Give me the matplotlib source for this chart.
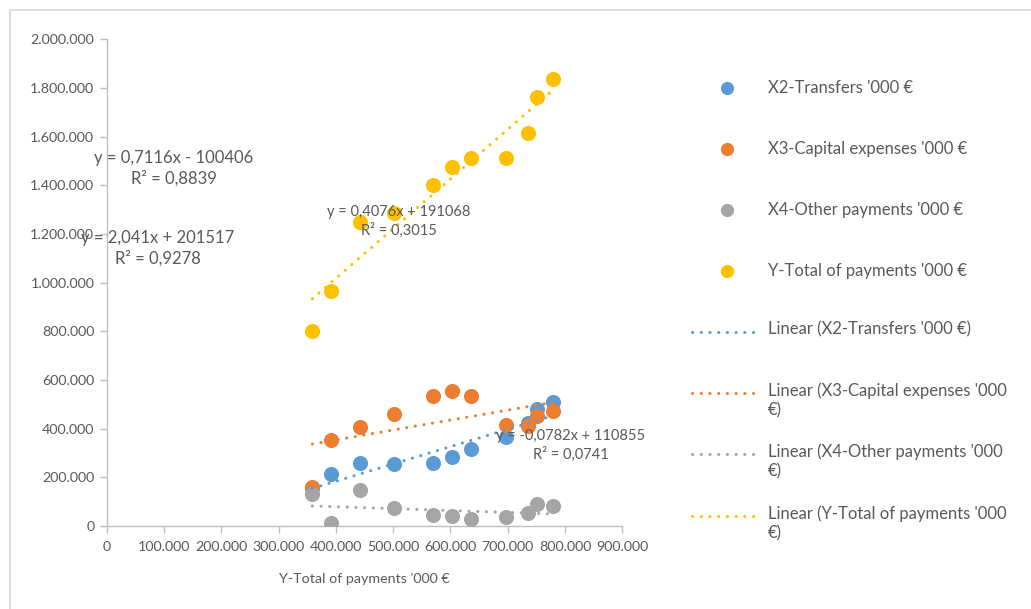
import matplotlib
matplotlib.use("Agg")
import matplotlib.pyplot as plt
from matplotlib.lines import Line2D
from matplotlib.patches import Rectangle
from matplotlib.ticker import FuncFormatter
import numpy as np

# ---- data ----
x_total = [358800, 390900, 442100, 502000, 570100, 603200, 635400, 697000, 734900, 750600, 779600]
x2_transfers = [155000, 212800, 260500, 255100, 258000, 282700, 316800, 364800, 424800, 479900, 511100]
x3_capital = [161900, 353700, 405900, 460600, 534500, 556300, 535800, 415400, 411300, 452400, 474100]
x4_other = [131900, 14000, 148300, 75600, 45600, 41500, 27900, 38600, 52600, 90800, 82600]
y_total = [802800, 964700, 1250700, 1287700, 1401500, 1476700, 1513700, 1512400, 1615200, 1764300, 1838200]

series_names = ["X2-Transfers '000 €", "X3-Capital expenses '000 €",
                "X4-Other payments '000 €", "Y-Total of payments '000 €"]
trend_names = ["Linear (X2-Transfers '000 €)", "Linear (X3-Capital expenses '000\n€)",
               "Linear (X4-Other payments '000\n€)", "Linear (Y-Total of payments '000\n€)"]
# trendline coefficients as shown in the chart labels
slopes = [0.7116, 0.4076, -0.0782, 2.041]
intercepts = [-100406, 191068, 110855, 201517]
eq_texts = ["y = 0,7116x - 100406\nR² = 0,8839",
            "y = 0,4076x + 191068\nR² = 0,3015",
            "y = -0,0782x + 110855\nR² = 0,0741",
            "y = 2,041x + 201517\nR² = 0,9278"]
x_ticks = list(range(0, 900001, 100000))
y_ticks = list(range(0, 2000001, 200000))

colors = ["#5B9BD5", "#ED7D31", "#A5A5A5", "#FFC000"]
txt = "#595959"

plt.rcParams['font.family'] = ['Lato', 'DejaVu Sans']

W, H = 1031, 609
fig = plt.figure(figsize=(W / 100, H / 100), dpi=100)
fig.patch.set_facecolor("white")

def fx(px):
    return px / W

def fy(py):
    return 1 - py / H

ax = fig.add_axes([fx(106.8), fy(526.1), fx(622.3) - fx(106.8), fy(39.3) - fy(526.1)])
ax.set_xlim(0, 900000)
ax.set_ylim(0, 2000000)

all_y = [x2_transfers, x3_capital, x4_other, y_total]
for ys, c in zip(all_y, colors):
    ax.scatter(x_total, ys, s=118, color=c, zorder=3, linewidths=0)

LW = 2.2
DASH = [0.05, 2.8]
xs = np.array([min(x_total), max(x_total)])
for m, b, c in zip(slopes, intercepts, colors):
    ln, = ax.plot(xs, m * xs + b, color=c, lw=LW, zorder=4,
                  dash_capstyle='round', solid_capstyle='round')
    ln.set_dashes(DASH)

for s in ["top", "right"]:
    ax.spines[s].set_visible(False)
for s in ["left", "bottom"]:
    ax.spines[s].set_color("#BFBFBF")
    ax.spines[s].set_linewidth(1.0)
ax.set_xticks(x_ticks)
ax.set_yticks(y_ticks)
fmt = FuncFormatter(lambda v, p: f"{int(v):,}".replace(",", "."))
ax.xaxis.set_major_formatter(fmt)
ax.yaxis.set_major_formatter(fmt)
ax.tick_params(axis='both', colors="#BFBFBF", labelcolor=txt, labelsize=10.3,
               length=5, width=1.0, direction='out')
ax.tick_params(axis='y', pad=4)
ax.tick_params(axis='x', pad=6)
ax.set_xlabel("Y-Total of payments '000 €", fontsize=10.3, color=txt, labelpad=14)
ax.patch.set_alpha(0)

# trendline equation labels (pixel centers, font size)
eq_pos = [(174, 168, 12), (399, 221.5, 10.5), (571, 445.5, 10.5), (157.5, 248, 12)]
for t, (px, py, fs) in zip(eq_texts, eq_pos):
    fig.text(fx(px), fy(py), t, ha='center', va='center', fontsize=fs, color=txt,
             linespacing=1.3, multialignment='center', zorder=10)

# legend (manual)
row_y = [88, 149, 210, 271, 332, 393, 454, 516]
for i in range(4):
    fig.add_artist(Line2D([fx(727)], [fy(row_y[i])], marker='o', markersize=9.5,
                          color=colors[i], linestyle='none', markeredgewidth=0))
    fig.text(fx(768), fy(row_y[i]), series_names[i], fontsize=12, color=txt,
             ha='left', va='center')
for i in range(4):
    y0 = row_y[4 + i]
    l = Line2D([fx(692), fx(760)], [fy(y0), fy(y0)], color=colors[i], lw=LW,
               dash_capstyle='round')
    l.set_dashes(DASH)
    fig.add_artist(l)
    fig.text(fx(768), fy(y0 - 11), trend_names[i], fontsize=12, color=txt,
             ha='left', va='top', linespacing=1.3)

# chart border
fig.add_artist(Rectangle((fx(9.5), fy(620)), fx(1040) - fx(9.5), fy(10.5) - fy(620),
                         fill=False, edgecolor="#D9D9D9", lw=1.2, transform=fig.transFigure))

fig.savefig("out.png", dpi=100)
